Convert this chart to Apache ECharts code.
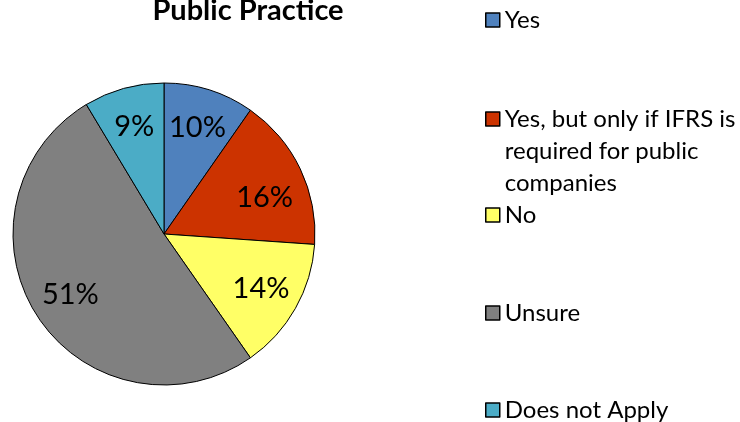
<!DOCTYPE html>
<html>
<head>
<meta charset="utf-8">
<script src="https://cdn.jsdelivr.net/npm/echarts@6/dist/echarts.min.js"></script>
<style>
  html, body { margin: 0; padding: 0; background: #fff; }
  #chart { width: 740px; height: 422px; }
</style>
</head>
<body>
<div id="chart"></div>
<script>
// data
const categories = ['Yes', 'Yes, but only if IFRS is required for public companies', 'No', 'Unsure', 'Does not Apply']
const legendLabels = ['Yes', 'Yes, but only if IFRS is\nrequired for public\ncompanies', 'No', 'Unsure', 'Does not Apply']
const shares = [9.7, 16.4, 14.2, 51.1, 8.6]
const colors = ['#4F81BD', '#CC3300', '#FFFF66', '#808080', '#4BACC6']
const legendTops = [4, 39, 199, 297, 394]

const FONT = 'Lato'

const chart = echarts.init(document.getElementById('chart'), null, { renderer: 'canvas' })

const pieData = categories.map((name, i) => ({
  name,
  value: shares[i],
  itemStyle: { color: colors[i] },
}))

// one legend per entry, placed like the Excel legend
const legends = categories.map((name, i) => ({
  data: [name],
  orient: 'vertical',
  left: 485,
  top: legendTops[i],
  padding: 0,
  itemWidth: 14,
  itemHeight: 14,
  itemGap: 0,
  selectedMode: false,
  icon: 'rect',
  itemStyle: { borderColor: '#000', borderWidth: 1.5 },
  // wrapped entry: empty lines first so the box sits beside the first line
  formatter: () => {
    const lines = legendLabels[i].split('\n')
    const pad = new Array(lines.length).join('\n')
    return pad + legendLabels[i]
  },
  textStyle: {
    fontFamily: FONT,
    fontSize: 24,
    color: '#000',
    lineHeight: 32,
  },
}))

const option = {
  animation: false,
  title: {
    text: 'Public Practice',
    left: 243,
    textAlign: 'center',
    top: -9,
    textStyle: { fontFamily: FONT, fontSize: 29, fontWeight: 'bold', color: '#000' },
  },
  legend: legends,
  series: [
    {
      type: 'pie',
      center: [164, 234],
      radius: [0, 151],
      startAngle: 90,
      clockwise: true,
      silent: true,
      label: { show: false },
      labelLine: { show: false },
      itemStyle: { borderColor: '#000', borderWidth: 1 },
      data: pieData,
    },
    {
      // transparent ring only for placing the percent labels further out
      type: 'pie',
      center: [164, 234],
      radius: [66, 151],
      startAngle: 90,
      clockwise: true,
      silent: true,
      percentPrecision: 0,
      itemStyle: { color: 'rgba(0,0,0,0)', borderWidth: 0 },
      label: {
        show: true,
        position: 'inside',
        formatter: '{d}%',
        fontFamily: FONT,
        fontSize: 29,
        color: '#000',
      },
      labelLine: { show: false },
      data: categories.map((name, i) => ({
        name,
        value: shares[i],
        // Excel put the 16% label a bit lower than the slice middle
        label: i === 1 ? { offset: [0, 12] } : undefined,
      })),
    },
  ],
}

chart.setOption(option)
</script>
</body>
</html>
